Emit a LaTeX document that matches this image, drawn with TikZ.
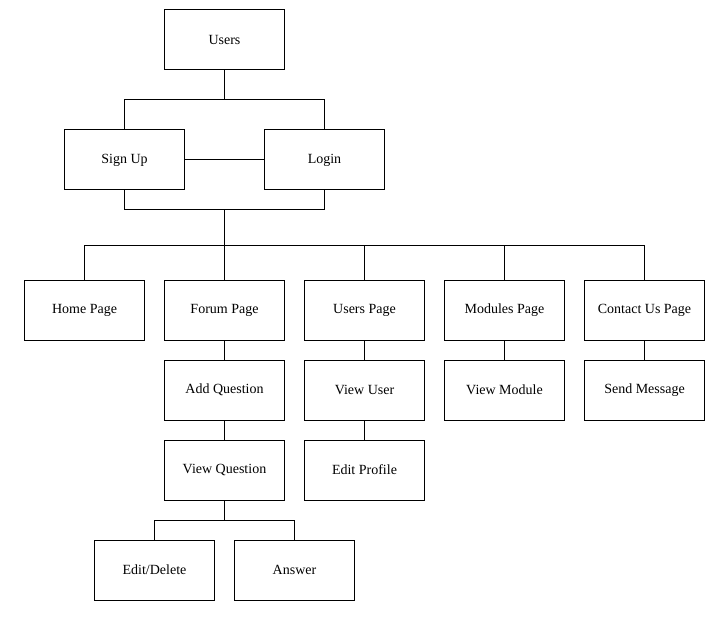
\documentclass[tikz,border=0pt]{standalone}
\usepackage{fontspec}
\setmainfont{Liberation Serif}
\begin{document}
\begin{tikzpicture}[x=0.75pt,y=-0.75pt,
  box/.style={draw=black,line width=0.75pt,rectangle,minimum width=90pt,minimum height=45pt,inner sep=0pt,font=\fontsize{10.5}{12}\selectfont},
  conn/.style={draw=black,line width=0.75pt}]
\useasboundingbox (0,0) rectangle (727,620);
\node[box] (users) at (224.5,40) {Users};
\node[box] (signup) at (124.5,160) {Sign Up};
\node[box] (login) at (324.5,160) {Login};
\node[box] (home) at (84.5,310) {Home Page};
\node[box] (forum) at (224.5,310) {Forum Page};
\node[box] (upage) at (364.5,310) {Users Page};
\node[box] (modules) at (504.5,310) {Modules Page};
\node[box] (contact) at (644.5,310) {Contact Us Page};
\node[box] (addq) at (224.5,390) {Add Question};
\node[box] (viewuser) at (364.5,390) {View User};
\node[box] (viewmod) at (504.5,390) {View Module};
\node[box] (sendmsg) at (644.5,390) {Send Message};
\node[box] (viewq) at (224.5,470) {View Question};
\node[box] (editprof) at (364.5,470) {Edit Profile};
\node[box] (editdel) at (154.5,570) {Edit/Delete};
\node[box] (answer) at (294.5,570) {Answer};
\coordinate (j1) at (224.5,100);
\coordinate (j2) at (224.5,210);
\coordinate (j3) at (224.5,245.5);
\coordinate (j4) at (224.5,520);
\draw[conn] (users.south) -- (j1);
\draw[conn] (signup.north) -- (signup.north |- j1) -- (login.north |- j1) -- (login.north);
\draw[conn] (signup.east) -- (login.west);
\draw[conn] (signup.south) -- (signup.south |- j2) -- (login.south |- j2) -- (login.south);
\draw[conn] (j2) -- (j3);
\draw[conn] (home.north) -- (home.north |- j3) -- (contact.north |- j3) -- (contact.north);
\draw[conn] (forum.north) -- (forum.north |- j3);
\draw[conn] (upage.north) -- (upage.north |- j3);
\draw[conn] (modules.north) -- (modules.north |- j3);
\draw[conn] (forum.south) -- (addq.north);
\draw[conn] (addq.south) -- (viewq.north);
\draw[conn] (upage.south) -- (viewuser.north);
\draw[conn] (viewuser.south) -- (editprof.north);
\draw[conn] (modules.south) -- (viewmod.north);
\draw[conn] (contact.south) -- (sendmsg.north);
\draw[conn] (viewq.south) -- (j4);
\draw[conn] (editdel.north) -- (editdel.north |- j4) -- (answer.north |- j4) -- (answer.north);
\end{tikzpicture}
\end{document}
